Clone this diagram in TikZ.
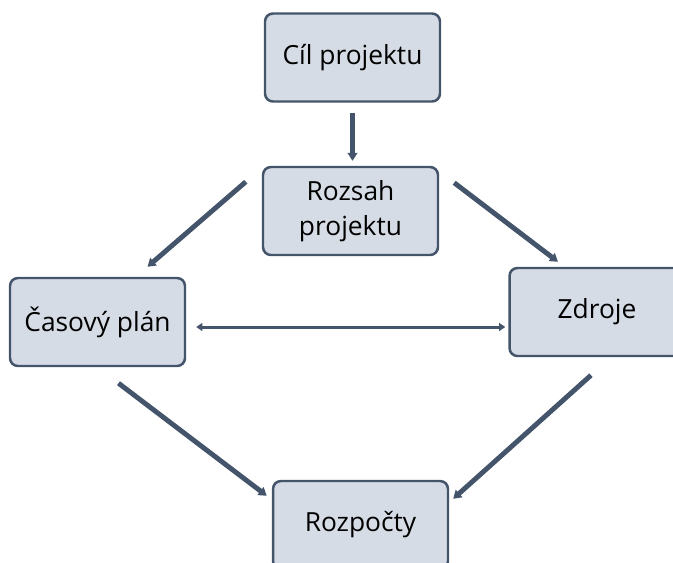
\documentclass[tikz,border=0pt]{standalone}
\usepackage{fontspec}
\setmainfont{Open Sans}
\usepackage{tikz}
\usetikzlibrary{calc,arrows.meta}
\definecolor{boxfill}{HTML}{D6DCE5}
\definecolor{slate}{HTML}{44546A}
\tikzset{
	blok/.style={draw=slate, fill=boxfill, line width=1.4pt, rounded corners=4.5pt,
		minimum width=3.5cm, minimum height=1.76cm, inner sep=0pt, align=center,
		font=\fontsize{15}{20}\selectfont},
	sipka/.style={draw=slate, line width=2.8pt, -{Triangle[width=5.5pt,length=4.5pt]}},
	obousipka/.style={draw=slate, line width=1.7pt, {Triangle[width=4.5pt,length=3.5pt]}-{Triangle[width=4.5pt,length=3.5pt]}}
}

\begin{document}
\begin{tikzpicture}[x=0.02cm, y=-0.02cm]
			%%%%% START %%%%%
			
			\clip (0, 0) rectangle (673, 562);
			
			\node[blok] (cil) at (352.5, 57.5) {Cíl projektu};
			\node[blok] (rozsah) at (350.5, 211) {Rozsah\\projektu};
			\node[blok] (casovy) at (97.5, 322) {Časový plán};
			\node[blok] (zdroje) at (597, 312) {Zdroje};
			\node[blok] (rozpocty) at (360.5, 525) {Rozpočty};
			
			\draw[sipka] ($(cil.south)+(0, 10)$) -- ($(rozsah.north)+(2, -5)$);
			\draw[sipka] ($(rozsah.north west)+(-16, 16)$) -- ($(casovy.north)+(50, -10)$);
			\draw[sipka] ($(rozsah.north east)+(15, 17)$) -- ($(zdroje.north)+(-39, -5)$);
			
			\draw[obousipka] ($(casovy.east)+(10, 5)$) -- ($(zdroje.west)+(-3, 15)$);
			
			\draw[sipka] ($(casovy.south)+(21, 16)$) -- ($(rozpocty.north west)+(-5, 16)$);
			\draw[sipka] ($(zdroje.south)+(-6, 18)$) -- ($(rozpocty.north east)+(4, 19)$);
			
			%%%%% END %%%%%
		\end{tikzpicture}
\end{document}
